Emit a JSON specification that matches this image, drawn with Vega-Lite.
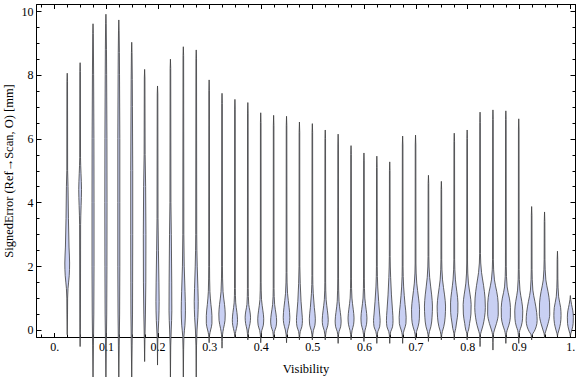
{
  "$schema": "https://vega.github.io/schema/vega-lite/v6.json",
  "width": 539,
  "height": 333,
  "autosize": {"type": "none"},
  "padding": {"left": 36, "top": 4, "right": 1, "bottom": 40},
  "background": "white",
  "config": {
    "view": {"stroke": "#000000", "strokeWidth": 1},
    "axis": {
      "grid": false,
      "domainColor": "#000000",
      "tickColor": "#000000",
      "labelColor": "#000000",
      "titleColor": "#000000",
      "labelFont": "Liberation Serif",
      "titleFont": "Liberation Serif",
      "labelFontSize": 12,
      "titleFontSize": 12.5,
      "titleFontWeight": "normal"
    }
  },
  "data": {
    "values": [
      {"v":0.025,"e":8.05,"lo":0.025,"hi":0.025},{"v":0.025,"e":7.8,"lo":0.02442,"hi":0.02558},{"v":0.025,"e":5.0,"lo":0.02422,"hi":0.02578},{"v":0.025,"e":4.5,"lo":0.02345,"hi":0.02655},{"v":0.025,"e":3.5,"lo":0.02267,"hi":0.02733},{"v":0.025,"e":2.6,"lo":0.02151,"hi":0.02849},{"v":0.025,"e":2.1,"lo":0.02035,"hi":0.02965},{"v":0.025,"e":1.7,"lo":0.02112,"hi":0.02888},{"v":0.025,"e":1.3,"lo":0.02345,"hi":0.02655},{"v":0.025,"e":1.0,"lo":0.02422,"hi":0.02578},{"v":0.025,"e":0.5,"lo":0.02442,"hi":0.02558},{"v":0.025,"e":-0.15,"lo":0.025,"hi":0.025},
      {"v":0.05,"e":8.38,"lo":0.05,"hi":0.05},{"v":0.05,"e":8.1,"lo":0.04942,"hi":0.05058},{"v":0.05,"e":5.4,"lo":0.04922,"hi":0.05078},{"v":0.05,"e":4.9,"lo":0.04826,"hi":0.05174},{"v":0.05,"e":4.4,"lo":0.04729,"hi":0.05271},{"v":0.05,"e":3.9,"lo":0.04806,"hi":0.05194},{"v":0.05,"e":3.3,"lo":0.04903,"hi":0.05097},{"v":0.05,"e":0.0,"lo":0.04942,"hi":0.05058},{"v":0.05,"e":-0.52,"lo":0.05,"hi":0.05},
      {"v":0.075,"e":9.6,"lo":0.075,"hi":0.075},{"v":0.075,"e":9.3,"lo":0.07442,"hi":0.07558},{"v":0.075,"e":8.0,"lo":0.07384,"hi":0.07616},{"v":0.075,"e":6.0,"lo":0.07326,"hi":0.07674},{"v":0.075,"e":4.0,"lo":0.07306,"hi":0.07694},{"v":0.075,"e":2.0,"lo":0.07306,"hi":0.07694},{"v":0.075,"e":0.5,"lo":0.07345,"hi":0.07655},{"v":0.075,"e":-0.5,"lo":0.07422,"hi":0.07578},{"v":0.075,"e":-1.6,"lo":0.075,"hi":0.075},
      {"v":0.1,"e":9.9,"lo":0.1,"hi":0.1},{"v":0.1,"e":9.6,"lo":0.09942,"hi":0.10058},{"v":0.1,"e":8.0,"lo":0.09864,"hi":0.10136},{"v":0.1,"e":6.0,"lo":0.09806,"hi":0.10194},{"v":0.1,"e":4.0,"lo":0.09787,"hi":0.10213},{"v":0.1,"e":2.0,"lo":0.09806,"hi":0.10194},{"v":0.1,"e":0.5,"lo":0.09845,"hi":0.10155},{"v":0.1,"e":-0.5,"lo":0.09922,"hi":0.10078},{"v":0.1,"e":-1.6,"lo":0.1,"hi":0.1},
      {"v":0.125,"e":9.72,"lo":0.125,"hi":0.125},{"v":0.125,"e":9.4,"lo":0.12442,"hi":0.12558},{"v":0.125,"e":8.0,"lo":0.12364,"hi":0.12636},{"v":0.125,"e":6.0,"lo":0.12306,"hi":0.12694},{"v":0.125,"e":4.0,"lo":0.12306,"hi":0.12694},{"v":0.125,"e":2.0,"lo":0.12306,"hi":0.12694},{"v":0.125,"e":0.5,"lo":0.12345,"hi":0.12655},{"v":0.125,"e":-0.5,"lo":0.12422,"hi":0.12578},{"v":0.125,"e":-1.6,"lo":0.125,"hi":0.125},
      {"v":0.15,"e":9.02,"lo":0.15,"hi":0.15},{"v":0.15,"e":8.7,"lo":0.14942,"hi":0.15058},{"v":0.15,"e":7.0,"lo":0.14864,"hi":0.15136},{"v":0.15,"e":5.0,"lo":0.14806,"hi":0.15194},{"v":0.15,"e":3.0,"lo":0.14806,"hi":0.15194},{"v":0.15,"e":1.5,"lo":0.14826,"hi":0.15174},{"v":0.15,"e":0.5,"lo":0.14845,"hi":0.15155},{"v":0.15,"e":-0.5,"lo":0.14922,"hi":0.15078},{"v":0.15,"e":-1.6,"lo":0.15,"hi":0.15},
      {"v":0.175,"e":8.17,"lo":0.175,"hi":0.175},{"v":0.175,"e":7.9,"lo":0.17442,"hi":0.17558},{"v":0.175,"e":5.5,"lo":0.17403,"hi":0.17597},{"v":0.175,"e":4.5,"lo":0.17306,"hi":0.17694},{"v":0.175,"e":3.0,"lo":0.17248,"hi":0.17752},{"v":0.175,"e":1.5,"lo":0.17267,"hi":0.17733},{"v":0.175,"e":0.5,"lo":0.17345,"hi":0.17655},{"v":0.175,"e":-0.3,"lo":0.17442,"hi":0.17558},{"v":0.175,"e":-0.99,"lo":0.175,"hi":0.175},
      {"v":0.2,"e":7.65,"lo":0.2,"hi":0.2},{"v":0.2,"e":7.4,"lo":0.19942,"hi":0.20058},{"v":0.2,"e":3.5,"lo":0.19903,"hi":0.20097},{"v":0.2,"e":2.5,"lo":0.19826,"hi":0.20174},{"v":0.2,"e":1.5,"lo":0.19729,"hi":0.20271},{"v":0.2,"e":0.9,"lo":0.1969,"hi":0.2031},{"v":0.2,"e":0.3,"lo":0.19767,"hi":0.20233},{"v":0.2,"e":-0.2,"lo":0.19922,"hi":0.20078},{"v":0.2,"e":-1.1,"lo":0.2,"hi":0.2},
      {"v":0.225,"e":8.49,"lo":0.225,"hi":0.225},{"v":0.225,"e":8.2,"lo":0.22442,"hi":0.22558},{"v":0.225,"e":4.0,"lo":0.22403,"hi":0.22597},{"v":0.225,"e":3.0,"lo":0.22326,"hi":0.22674},{"v":0.225,"e":1.5,"lo":0.22248,"hi":0.22752},{"v":0.225,"e":0.6,"lo":0.22229,"hi":0.22771},{"v":0.225,"e":0.0,"lo":0.22345,"hi":0.22655},{"v":0.225,"e":-0.5,"lo":0.22442,"hi":0.22558},{"v":0.225,"e":-1.6,"lo":0.225,"hi":0.225},
      {"v":0.25,"e":8.88,"lo":0.25,"hi":0.25},{"v":0.25,"e":8.6,"lo":0.24942,"hi":0.25058},{"v":0.25,"e":3.0,"lo":0.24903,"hi":0.25097},{"v":0.25,"e":2.0,"lo":0.24826,"hi":0.25174},{"v":0.25,"e":1.2,"lo":0.24671,"hi":0.25329},{"v":0.25,"e":0.6,"lo":0.24593,"hi":0.25407},{"v":0.25,"e":0.15,"lo":0.2469,"hi":0.2531},{"v":0.25,"e":-0.2,"lo":0.24884,"hi":0.25116},{"v":0.25,"e":-0.6,"lo":0.24942,"hi":0.25058},{"v":0.25,"e":-1.6,"lo":0.25,"hi":0.25},
      {"v":0.275,"e":8.78,"lo":0.275,"hi":0.275},{"v":0.275,"e":8.5,"lo":0.27442,"hi":0.27558},{"v":0.275,"e":3.0,"lo":0.27403,"hi":0.27597},{"v":0.275,"e":2.0,"lo":0.27306,"hi":0.27694},{"v":0.275,"e":1.3,"lo":0.27171,"hi":0.27829},{"v":0.275,"e":0.9,"lo":0.27112,"hi":0.27888},{"v":0.275,"e":0.4,"lo":0.2719,"hi":0.2781},{"v":0.275,"e":0.0,"lo":0.27345,"hi":0.27655},{"v":0.275,"e":-0.5,"lo":0.27442,"hi":0.27558},{"v":0.275,"e":-1.6,"lo":0.275,"hi":0.275},
      {"v":0.3,"e":7.84,"lo":0.3,"hi":0.3},{"v":0.3,"e":7.5,"lo":0.29942,"hi":0.30058},{"v":0.3,"e":2.0,"lo":0.29922,"hi":0.30078},{"v":0.3,"e":1.2,"lo":0.29845,"hi":0.30155},{"v":0.3,"e":0.8,"lo":0.29651,"hi":0.30349},{"v":0.3,"e":0.45,"lo":0.29457,"hi":0.30543},{"v":0.3,"e":0.2,"lo":0.29457,"hi":0.30543},{"v":0.3,"e":0.0,"lo":0.29709,"hi":0.30291},{"v":0.3,"e":-0.15,"lo":0.29903,"hi":0.30097},{"v":0.3,"e":-0.4,"lo":0.3,"hi":0.3},
      {"v":0.325,"e":7.42,"lo":0.325,"hi":0.325},{"v":0.325,"e":7.1,"lo":0.32442,"hi":0.32558},{"v":0.325,"e":2.0,"lo":0.32422,"hi":0.32578},{"v":0.325,"e":1.2,"lo":0.32306,"hi":0.32694},{"v":0.325,"e":0.8,"lo":0.32016,"hi":0.32984},{"v":0.325,"e":0.5,"lo":0.3188,"hi":0.3312},{"v":0.325,"e":0.3,"lo":0.31919,"hi":0.33081},{"v":0.325,"e":0.05,"lo":0.32209,"hi":0.32791},{"v":0.325,"e":-0.15,"lo":0.32403,"hi":0.32597},{"v":0.325,"e":-0.57,"lo":0.325,"hi":0.325},
      {"v":0.35,"e":7.23,"lo":0.35,"hi":0.35},{"v":0.35,"e":6.9,"lo":0.34942,"hi":0.35058},{"v":0.35,"e":1.3,"lo":0.34922,"hi":0.35078},{"v":0.35,"e":0.85,"lo":0.34845,"hi":0.35155},{"v":0.35,"e":0.55,"lo":0.34612,"hi":0.35388},{"v":0.35,"e":0.32,"lo":0.34496,"hi":0.35504},{"v":0.35,"e":0.15,"lo":0.34574,"hi":0.35426},{"v":0.35,"e":-0.05,"lo":0.34845,"hi":0.35155},{"v":0.35,"e":-0.12,"lo":0.34922,"hi":0.35078},{"v":0.35,"e":-0.25,"lo":0.35,"hi":0.35},
      {"v":0.375,"e":7.13,"lo":0.375,"hi":0.375},{"v":0.375,"e":6.8,"lo":0.37442,"hi":0.37558},{"v":0.375,"e":1.3,"lo":0.37422,"hi":0.37578},{"v":0.375,"e":0.8,"lo":0.37326,"hi":0.37674},{"v":0.375,"e":0.6,"lo":0.37112,"hi":0.37888},{"v":0.375,"e":0.4,"lo":0.36977,"hi":0.38023},{"v":0.375,"e":0.2,"lo":0.37074,"hi":0.37926},{"v":0.375,"e":0.0,"lo":0.37345,"hi":0.37655},{"v":0.375,"e":-0.12,"lo":0.37422,"hi":0.37578},{"v":0.375,"e":-0.31,"lo":0.375,"hi":0.375},
      {"v":0.4,"e":6.81,"lo":0.4,"hi":0.4},{"v":0.4,"e":6.5,"lo":0.39942,"hi":0.40058},{"v":0.4,"e":1.5,"lo":0.39922,"hi":0.40078},{"v":0.4,"e":0.95,"lo":0.39845,"hi":0.40155},{"v":0.4,"e":0.6,"lo":0.39574,"hi":0.40426},{"v":0.4,"e":0.35,"lo":0.39419,"hi":0.40581},{"v":0.4,"e":0.15,"lo":0.39496,"hi":0.40504},{"v":0.4,"e":-0.02,"lo":0.39806,"hi":0.40194},{"v":0.4,"e":-0.15,"lo":0.39922,"hi":0.40078},{"v":0.4,"e":-0.4,"lo":0.4,"hi":0.4},
      {"v":0.425,"e":6.73,"lo":0.425,"hi":0.425},{"v":0.425,"e":6.4,"lo":0.42442,"hi":0.42558},{"v":0.425,"e":1.3,"lo":0.42422,"hi":0.42578},{"v":0.425,"e":0.8,"lo":0.42306,"hi":0.42694},{"v":0.425,"e":0.5,"lo":0.42035,"hi":0.42965},{"v":0.425,"e":0.28,"lo":0.41919,"hi":0.43081},{"v":0.425,"e":0.1,"lo":0.42035,"hi":0.42965},{"v":0.425,"e":-0.05,"lo":0.42345,"hi":0.42655},{"v":0.425,"e":-0.15,"lo":0.42422,"hi":0.42578},{"v":0.425,"e":-0.31,"lo":0.425,"hi":0.425},
      {"v":0.45,"e":6.7,"lo":0.45,"hi":0.45},{"v":0.45,"e":6.4,"lo":0.44942,"hi":0.45058},{"v":0.45,"e":1.8,"lo":0.44922,"hi":0.45078},{"v":0.45,"e":1.15,"lo":0.44806,"hi":0.45194},{"v":0.45,"e":0.7,"lo":0.44496,"hi":0.45504},{"v":0.45,"e":0.4,"lo":0.44361,"hi":0.45639},{"v":0.45,"e":0.2,"lo":0.44457,"hi":0.45543},{"v":0.45,"e":0.0,"lo":0.44767,"hi":0.45233},{"v":0.45,"e":-0.15,"lo":0.44922,"hi":0.45078},{"v":0.45,"e":-0.4,"lo":0.45,"hi":0.45},
      {"v":0.475,"e":6.52,"lo":0.475,"hi":0.475},{"v":0.475,"e":6.2,"lo":0.47442,"hi":0.47558},{"v":0.475,"e":2.0,"lo":0.47422,"hi":0.47578},{"v":0.475,"e":1.45,"lo":0.47345,"hi":0.47655},{"v":0.475,"e":0.9,"lo":0.4719,"hi":0.4781},{"v":0.475,"e":0.5,"lo":0.46996,"hi":0.48004},{"v":0.475,"e":0.3,"lo":0.46919,"hi":0.48081},{"v":0.475,"e":0.1,"lo":0.47035,"hi":0.47965},{"v":0.475,"e":-0.05,"lo":0.47345,"hi":0.47655},{"v":0.475,"e":-0.15,"lo":0.47422,"hi":0.47578},{"v":0.475,"e":-0.31,"lo":0.475,"hi":0.475},
      {"v":0.5,"e":6.47,"lo":0.5,"hi":0.5},{"v":0.5,"e":6.2,"lo":0.49942,"hi":0.50058},{"v":0.5,"e":1.7,"lo":0.49922,"hi":0.50078},{"v":0.5,"e":1.15,"lo":0.49826,"hi":0.50174},{"v":0.5,"e":0.7,"lo":0.49612,"hi":0.50388},{"v":0.5,"e":0.35,"lo":0.49419,"hi":0.50581},{"v":0.5,"e":0.15,"lo":0.49496,"hi":0.50504},{"v":0.5,"e":-0.02,"lo":0.49806,"hi":0.50194},{"v":0.5,"e":-0.15,"lo":0.49922,"hi":0.50078},{"v":0.5,"e":-0.31,"lo":0.5,"hi":0.5},
      {"v":0.525,"e":6.27,"lo":0.525,"hi":0.525},{"v":0.525,"e":6.0,"lo":0.52442,"hi":0.52558},{"v":0.525,"e":1.5,"lo":0.52422,"hi":0.52578},{"v":0.525,"e":0.95,"lo":0.52326,"hi":0.52674},{"v":0.525,"e":0.6,"lo":0.52074,"hi":0.52926},{"v":0.525,"e":0.32,"lo":0.51919,"hi":0.53081},{"v":0.525,"e":0.15,"lo":0.51996,"hi":0.53004},{"v":0.525,"e":-0.02,"lo":0.52306,"hi":0.52694},{"v":0.525,"e":-0.15,"lo":0.52422,"hi":0.52578},{"v":0.525,"e":-0.31,"lo":0.525,"hi":0.525},
      {"v":0.55,"e":6.14,"lo":0.55,"hi":0.55},{"v":0.55,"e":5.8,"lo":0.54942,"hi":0.55058},{"v":0.55,"e":1.6,"lo":0.54922,"hi":0.55078},{"v":0.55,"e":0.9,"lo":0.54826,"hi":0.55174},{"v":0.55,"e":0.55,"lo":0.54574,"hi":0.55426},{"v":0.55,"e":0.28,"lo":0.54419,"hi":0.55581},{"v":0.55,"e":0.1,"lo":0.54516,"hi":0.55484},{"v":0.55,"e":-0.05,"lo":0.54826,"hi":0.55174},{"v":0.55,"e":-0.15,"lo":0.54922,"hi":0.55078},{"v":0.55,"e":-0.42,"lo":0.55,"hi":0.55},
      {"v":0.575,"e":5.78,"lo":0.575,"hi":0.575},{"v":0.575,"e":5.5,"lo":0.57442,"hi":0.57558},{"v":0.575,"e":1.6,"lo":0.57422,"hi":0.57578},{"v":0.575,"e":1.0,"lo":0.57326,"hi":0.57674},{"v":0.575,"e":0.65,"lo":0.57074,"hi":0.57926},{"v":0.575,"e":0.38,"lo":0.56919,"hi":0.58081},{"v":0.575,"e":0.18,"lo":0.56996,"hi":0.58004},{"v":0.575,"e":-0.02,"lo":0.57306,"hi":0.57694},{"v":0.575,"e":-0.15,"lo":0.57422,"hi":0.57578},{"v":0.575,"e":-0.31,"lo":0.575,"hi":0.575},
      {"v":0.6,"e":5.55,"lo":0.6,"hi":0.6},{"v":0.6,"e":5.3,"lo":0.59942,"hi":0.60058},{"v":0.6,"e":1.6,"lo":0.59922,"hi":0.60078},{"v":0.6,"e":1.0,"lo":0.59826,"hi":0.60174},{"v":0.6,"e":0.65,"lo":0.59574,"hi":0.60426},{"v":0.6,"e":0.38,"lo":0.59419,"hi":0.60581},{"v":0.6,"e":0.18,"lo":0.59496,"hi":0.60504},{"v":0.6,"e":-0.02,"lo":0.59806,"hi":0.60194},{"v":0.6,"e":-0.15,"lo":0.59922,"hi":0.60078},{"v":0.6,"e":-0.36,"lo":0.6,"hi":0.6},
      {"v":0.625,"e":5.45,"lo":0.625,"hi":0.625},{"v":0.625,"e":5.1,"lo":0.62442,"hi":0.62558},{"v":0.625,"e":2.0,"lo":0.62422,"hi":0.62578},{"v":0.625,"e":1.35,"lo":0.62326,"hi":0.62674},{"v":0.625,"e":0.9,"lo":0.62151,"hi":0.62849},{"v":0.625,"e":0.5,"lo":0.61957,"hi":0.63043},{"v":0.625,"e":0.3,"lo":0.61861,"hi":0.63139},{"v":0.625,"e":0.1,"lo":0.61957,"hi":0.63043},{"v":0.625,"e":-0.05,"lo":0.62306,"hi":0.62694},{"v":0.625,"e":-0.15,"lo":0.62422,"hi":0.62578},{"v":0.625,"e":-0.42,"lo":0.625,"hi":0.625},
      {"v":0.65,"e":5.27,"lo":0.65,"hi":0.65},{"v":0.65,"e":5.0,"lo":0.64942,"hi":0.65058},{"v":0.65,"e":2.3,"lo":0.64922,"hi":0.65078},{"v":0.65,"e":1.65,"lo":0.64826,"hi":0.65174},{"v":0.65,"e":1.1,"lo":0.64671,"hi":0.65329},{"v":0.65,"e":0.6,"lo":0.64457,"hi":0.65543},{"v":0.65,"e":0.3,"lo":0.64361,"hi":0.65639},{"v":0.65,"e":0.1,"lo":0.64457,"hi":0.65543},{"v":0.65,"e":-0.05,"lo":0.64806,"hi":0.65194},{"v":0.65,"e":-0.15,"lo":0.64922,"hi":0.65078},{"v":0.65,"e":-0.42,"lo":0.65,"hi":0.65},
      {"v":0.675,"e":6.08,"lo":0.675,"hi":0.675},{"v":0.675,"e":5.8,"lo":0.67442,"hi":0.67558},{"v":0.675,"e":2.0,"lo":0.67422,"hi":0.67578},{"v":0.675,"e":1.35,"lo":0.67306,"hi":0.67694},{"v":0.675,"e":0.8,"lo":0.67035,"hi":0.67965},{"v":0.675,"e":0.4,"lo":0.66822,"hi":0.68178},{"v":0.675,"e":0.2,"lo":0.66861,"hi":0.68139},{"v":0.675,"e":0.0,"lo":0.67209,"hi":0.67791},{"v":0.675,"e":-0.15,"lo":0.67422,"hi":0.67578},{"v":0.675,"e":-0.42,"lo":0.675,"hi":0.675},
      {"v":0.7,"e":6.11,"lo":0.7,"hi":0.7},{"v":0.7,"e":5.8,"lo":0.69942,"hi":0.70058},{"v":0.7,"e":2.1,"lo":0.69922,"hi":0.70078},{"v":0.7,"e":1.47,"lo":0.69767,"hi":0.70233},{"v":0.7,"e":1.0,"lo":0.69419,"hi":0.70581},{"v":0.7,"e":0.65,"lo":0.69225,"hi":0.70775},{"v":0.7,"e":0.35,"lo":0.69264,"hi":0.70736},{"v":0.7,"e":0.1,"lo":0.69516,"hi":0.70484},{"v":0.7,"e":-0.05,"lo":0.69806,"hi":0.70194},{"v":0.7,"e":-0.15,"lo":0.69922,"hi":0.70078},{"v":0.7,"e":-0.31,"lo":0.7,"hi":0.7},
      {"v":0.725,"e":4.85,"lo":0.725,"hi":0.725},{"v":0.725,"e":4.6,"lo":0.72442,"hi":0.72558},{"v":0.725,"e":2.3,"lo":0.72422,"hi":0.72578},{"v":0.725,"e":1.65,"lo":0.72267,"hi":0.72733},{"v":0.725,"e":1.1,"lo":0.7188,"hi":0.7312},{"v":0.725,"e":0.75,"lo":0.71725,"hi":0.73275},{"v":0.725,"e":0.4,"lo":0.71802,"hi":0.73198},{"v":0.725,"e":0.1,"lo":0.72035,"hi":0.72965},{"v":0.725,"e":-0.05,"lo":0.72306,"hi":0.72694},{"v":0.725,"e":-0.15,"lo":0.72422,"hi":0.72578},{"v":0.725,"e":-0.36,"lo":0.725,"hi":0.725},
      {"v":0.75,"e":4.66,"lo":0.75,"hi":0.75},{"v":0.75,"e":4.4,"lo":0.74942,"hi":0.75058},{"v":0.75,"e":2.2,"lo":0.74922,"hi":0.75078},{"v":0.75,"e":1.57,"lo":0.74767,"hi":0.75233},{"v":0.75,"e":1.1,"lo":0.7438,"hi":0.7562},{"v":0.75,"e":0.75,"lo":0.74186,"hi":0.75814},{"v":0.75,"e":0.4,"lo":0.74264,"hi":0.75736},{"v":0.75,"e":0.1,"lo":0.74535,"hi":0.75465},{"v":0.75,"e":-0.05,"lo":0.74806,"hi":0.75194},{"v":0.75,"e":-0.15,"lo":0.74922,"hi":0.75078},{"v":0.75,"e":-0.31,"lo":0.75,"hi":0.75},
      {"v":0.775,"e":6.17,"lo":0.775,"hi":0.775},{"v":0.775,"e":5.9,"lo":0.77442,"hi":0.77558},{"v":0.775,"e":2.2,"lo":0.77422,"hi":0.77578},{"v":0.775,"e":1.57,"lo":0.77267,"hi":0.77733},{"v":0.775,"e":1.2,"lo":0.76996,"hi":0.78004},{"v":0.775,"e":0.85,"lo":0.76783,"hi":0.78217},{"v":0.775,"e":0.55,"lo":0.76802,"hi":0.78198},{"v":0.775,"e":0.25,"lo":0.77035,"hi":0.77965},{"v":0.775,"e":0.05,"lo":0.77209,"hi":0.77791},{"v":0.775,"e":-0.1,"lo":0.77422,"hi":0.77578},{"v":0.775,"e":-0.31,"lo":0.775,"hi":0.775},
      {"v":0.8,"e":6.27,"lo":0.8,"hi":0.8},{"v":0.8,"e":6.0,"lo":0.79942,"hi":0.80058},{"v":0.8,"e":2.1,"lo":0.79922,"hi":0.80078},{"v":0.8,"e":1.47,"lo":0.79748,"hi":0.80252},{"v":0.8,"e":1.1,"lo":0.79419,"hi":0.80581},{"v":0.8,"e":0.8,"lo":0.79225,"hi":0.80775},{"v":0.8,"e":0.5,"lo":0.79264,"hi":0.80736},{"v":0.8,"e":0.2,"lo":0.79535,"hi":0.80465},{"v":0.8,"e":0.0,"lo":0.79729,"hi":0.80271},{"v":0.8,"e":-0.1,"lo":0.79922,"hi":0.80078},{"v":0.8,"e":-0.31,"lo":0.8,"hi":0.8},
      {"v":0.825,"e":6.83,"lo":0.825,"hi":0.825},{"v":0.825,"e":6.5,"lo":0.82442,"hi":0.82558},{"v":0.825,"e":2.4,"lo":0.82422,"hi":0.82578},{"v":0.825,"e":1.8,"lo":0.82209,"hi":0.82791},{"v":0.825,"e":1.4,"lo":0.81822,"hi":0.83178},{"v":0.825,"e":1.0,"lo":0.81531,"hi":0.83469},{"v":0.825,"e":0.7,"lo":0.81473,"hi":0.83527},{"v":0.825,"e":0.4,"lo":0.81628,"hi":0.83372},{"v":0.825,"e":0.15,"lo":0.81919,"hi":0.83081},{"v":0.825,"e":-0.05,"lo":0.82267,"hi":0.82733},{"v":0.825,"e":-0.15,"lo":0.82422,"hi":0.82578},{"v":0.825,"e":-0.52,"lo":0.825,"hi":0.825},
      {"v":0.85,"e":6.9,"lo":0.85,"hi":0.85},{"v":0.85,"e":6.6,"lo":0.84942,"hi":0.85058},{"v":0.85,"e":2.2,"lo":0.84922,"hi":0.85078},{"v":0.85,"e":1.57,"lo":0.84709,"hi":0.85291},{"v":0.85,"e":1.2,"lo":0.84264,"hi":0.85736},{"v":0.85,"e":0.85,"lo":0.83992,"hi":0.86008},{"v":0.85,"e":0.5,"lo":0.83973,"hi":0.86027},{"v":0.85,"e":0.2,"lo":0.84322,"hi":0.85678},{"v":0.85,"e":0.0,"lo":0.84709,"hi":0.85291},{"v":0.85,"e":-0.15,"lo":0.84922,"hi":0.85078},{"v":0.85,"e":-0.63,"lo":0.85,"hi":0.85},
      {"v":0.875,"e":6.87,"lo":0.875,"hi":0.875},{"v":0.875,"e":6.6,"lo":0.87442,"hi":0.87558},{"v":0.875,"e":2.0,"lo":0.87422,"hi":0.87578},{"v":0.875,"e":1.35,"lo":0.87248,"hi":0.87752},{"v":0.875,"e":1.0,"lo":0.86822,"hi":0.88178},{"v":0.875,"e":0.7,"lo":0.86609,"hi":0.88391},{"v":0.875,"e":0.4,"lo":0.86628,"hi":0.88372},{"v":0.875,"e":0.15,"lo":0.86919,"hi":0.88081},{"v":0.875,"e":-0.02,"lo":0.87267,"hi":0.87733},{"v":0.875,"e":-0.15,"lo":0.87422,"hi":0.87578},{"v":0.875,"e":-0.42,"lo":0.875,"hi":0.875},
      {"v":0.9,"e":6.62,"lo":0.9,"hi":0.9},{"v":0.9,"e":6.3,"lo":0.89942,"hi":0.90058},{"v":0.9,"e":1.9,"lo":0.89922,"hi":0.90078},{"v":0.9,"e":1.25,"lo":0.89767,"hi":0.90233},{"v":0.9,"e":0.9,"lo":0.89419,"hi":0.90581},{"v":0.9,"e":0.6,"lo":0.89225,"hi":0.90775},{"v":0.9,"e":0.35,"lo":0.89264,"hi":0.90736},{"v":0.9,"e":0.12,"lo":0.89516,"hi":0.90484},{"v":0.9,"e":-0.02,"lo":0.89806,"hi":0.90194},{"v":0.9,"e":-0.15,"lo":0.89922,"hi":0.90078},{"v":0.9,"e":-0.42,"lo":0.9,"hi":0.9},
      {"v":0.925,"e":3.87,"lo":0.925,"hi":0.925},{"v":0.925,"e":3.6,"lo":0.92442,"hi":0.92558},{"v":0.925,"e":1.9,"lo":0.92422,"hi":0.92578},{"v":0.925,"e":1.25,"lo":0.92267,"hi":0.92733},{"v":0.925,"e":0.9,"lo":0.9188,"hi":0.9312},{"v":0.925,"e":0.55,"lo":0.91531,"hi":0.93469},{"v":0.925,"e":0.3,"lo":0.91434,"hi":0.93566},{"v":0.925,"e":0.1,"lo":0.91628,"hi":0.93372},{"v":0.925,"e":-0.05,"lo":0.92016,"hi":0.92984},{"v":0.925,"e":-0.15,"lo":0.92384,"hi":0.92616},{"v":0.925,"e":-0.31,"lo":0.925,"hi":0.925},
      {"v":0.95,"e":3.7,"lo":0.95,"hi":0.95},{"v":0.95,"e":3.4,"lo":0.94942,"hi":0.95058},{"v":0.95,"e":2.2,"lo":0.94922,"hi":0.95078},{"v":0.95,"e":1.57,"lo":0.94748,"hi":0.95252},{"v":0.95,"e":1.2,"lo":0.94322,"hi":0.95678},{"v":0.95,"e":0.85,"lo":0.94031,"hi":0.95969},{"v":0.95,"e":0.5,"lo":0.93992,"hi":0.96008},{"v":0.95,"e":0.2,"lo":0.94322,"hi":0.95678},{"v":0.95,"e":0.0,"lo":0.9469,"hi":0.9531},{"v":0.95,"e":-0.12,"lo":0.94922,"hi":0.95078},{"v":0.95,"e":-0.25,"lo":0.95,"hi":0.95},
      {"v":0.975,"e":2.47,"lo":0.975,"hi":0.975},{"v":0.975,"e":2.2,"lo":0.97442,"hi":0.97558},{"v":0.975,"e":1.6,"lo":0.97422,"hi":0.97578},{"v":0.975,"e":1.04,"lo":0.97267,"hi":0.97733},{"v":0.975,"e":0.7,"lo":0.9688,"hi":0.9812},{"v":0.975,"e":0.45,"lo":0.96802,"hi":0.98198},{"v":0.975,"e":0.2,"lo":0.96919,"hi":0.98081},{"v":0.975,"e":0.0,"lo":0.97209,"hi":0.97791},{"v":0.975,"e":-0.12,"lo":0.97422,"hi":0.97578},{"v":0.975,"e":-0.2,"lo":0.975,"hi":0.975},
      {"v":1.0,"e":1.08,"lo":1.0,"hi":1.0},{"v":1.0,"e":0.95,"lo":0.99922,"hi":1.00078},{"v":1.0,"e":0.8,"lo":0.99767,"hi":1.00233},{"v":1.0,"e":0.6,"lo":0.99516,"hi":1.00484},{"v":1.0,"e":0.4,"lo":0.99419,"hi":1.00581},{"v":1.0,"e":0.2,"lo":0.99457,"hi":1.00543},{"v":1.0,"e":0.0,"lo":0.99709,"hi":1.00291},{"v":1.0,"e":-0.12,"lo":0.99922,"hi":1.00078},{"v":1.0,"e":-0.2,"lo":1.0,"hi":1.0}
    ]
  },
  "layer": [
    {
      "mark": {"type": "area", "orient": "horizontal", "interpolate": "monotone", "fill": "#c9d0f3", "fillOpacity": 1, "stroke": "#3d3d3d", "strokeWidth": 0.9, "strokeOpacity": 0.9},
      "encoding": {
        "y": {
          "field": "e", "type": "quantitative",
          "scale": {"domain": [-0.22, 10.22], "nice": false, "zero": false},
          "axis": {
            "orient": "left",
            "title": "SignedError (Ref\u2192Scan, O) [mm]",
            "values": [0,0.5,1,1.5,2,2.5,3,3.5,4,4.5,5,5.5,6,6.5,7,7.5,8,8.5,9,9.5,10],
            "labelExpr": "datum.value % 2 === 0 ? format(datum.value, 'd') : ''",
            "tickSize": {"condition": {"test": "datum.value % 2 === 0", "value": -5}, "value": -3},
            "labelPadding": 8,
            "titlePadding": 6,
            "domain": true
          }
        },
        "x": {
          "field": "lo", "type": "quantitative",
          "scale": {"domain": [-0.0355, 1.009], "nice": false, "zero": false},
          "axis": {
            "orient": "bottom",
            "title": "Visibility",
            "values": [-0.025,0,0.025,0.05,0.075,0.1,0.125,0.15,0.175,0.2,0.225,0.25,0.275,0.3,0.325,0.35,0.375,0.4,0.425,0.45,0.475,0.5,0.525,0.55,0.575,0.6,0.625,0.65,0.675,0.7,0.725,0.75,0.775,0.8,0.825,0.85,0.875,0.9,0.925,0.95,0.975,1.0],
            "labelExpr": "abs(datum.value*10 - round(datum.value*10)) < 0.001 ? (datum.value == 0 ? '0.' : (datum.value == 1 ? '1.' : format(datum.value, '.1f'))) : ''",
            "tickSize": {"condition": {"test": "abs(datum.value*10 - round(datum.value*10)) < 0.001", "value": -4.5}, "value": -3},
            "labelPadding": 9,
            "labelFlush": false,
            "titlePadding": 10,
            "domain": true
          }
        },
        "x2": {"field": "hi"},
        "detail": {"field": "v", "type": "nominal"}
      }
    },
    {
      "mark": {"type": "point", "opacity": 0},
      "encoding": {
        "y": {
          "field": "e", "type": "quantitative",
          "axis": {
            "orient": "right", "title": null, "labels": false,
            "values": [0,0.5,1,1.5,2,2.5,3,3.5,4,4.5,5,5.5,6,6.5,7,7.5,8,8.5,9,9.5,10],
            "tickSize": {"condition": {"test": "datum.value % 2 === 0", "value": -5}, "value": -3}
          }
        },
        "x": {
          "field": "lo", "type": "quantitative",
          "axis": {
            "orient": "top", "title": null, "labels": false,
            "values": [-0.025,0,0.025,0.05,0.075,0.1,0.125,0.15,0.175,0.2,0.225,0.25,0.275,0.3,0.325,0.35,0.375,0.4,0.425,0.45,0.475,0.5,0.525,0.55,0.575,0.6,0.625,0.65,0.675,0.7,0.725,0.75,0.775,0.8,0.825,0.85,0.875,0.9,0.925,0.95,0.975,1.0],
            "tickSize": {"condition": {"test": "abs(datum.value*10 - round(datum.value*10)) < 0.001", "value": -4.5}, "value": -3}
          }
        }
      }
    }
  ],
  "resolve": {"axis": {"x": "independent", "y": "independent"}}
}
